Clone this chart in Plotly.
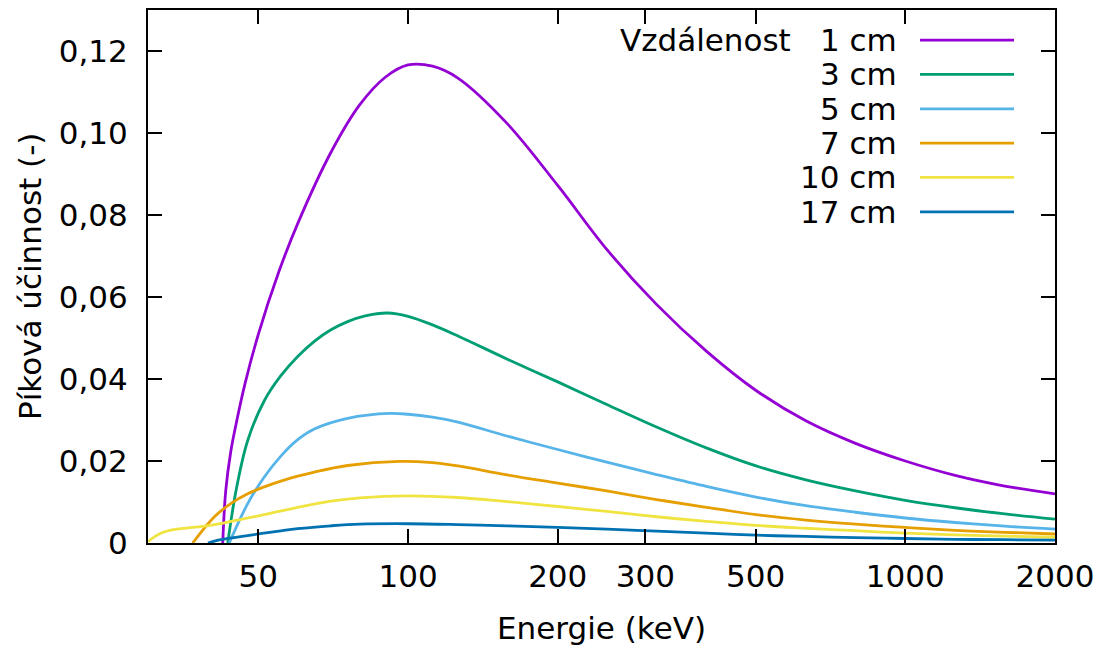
import math
import plotly.graph_objects as go

# ---- data (energy in keV, peak efficiency) ----
series_names = ["1 cm", "3 cm", "5 cm", "7 cm", "10 cm", "17 cm"]
colors = ["#9400D3", "#009E73", "#56B4E9", "#E69F00", "#F0E442", "#0072B2"]

e_1cm = [42.4, 43, 44, 45, 47, 50, 55, 60, 70, 80, 90, 100, 112, 126, 158, 200, 251, 316, 398, 501, 631, 794, 1000, 1259, 1585, 2000]
v_1cm = [0, 0.0128, 0.0222, 0.0284, 0.0388, 0.0509, 0.0662, 0.0779, 0.0953, 0.1069, 0.1136, 0.1166, 0.1163, 0.1134, 0.1024, 0.0872, 0.0716, 0.0582, 0.0468, 0.0372, 0.0298, 0.0243, 0.0200, 0.0165, 0.0139, 0.0120]

e_3cm = [43.4, 45.1, 47.6, 51.4, 55.5, 60, 64.8, 70, 75.6, 82, 91, 100, 112, 126, 158, 200, 251, 316, 398, 501, 631, 794, 1000, 1259, 1585, 2000]
v_3cm = [0, 0.0128, 0.0250, 0.0347, 0.0408, 0.0455, 0.0492, 0.0520, 0.0540, 0.0554, 0.0561, 0.0553, 0.0532, 0.0505, 0.0449, 0.0393, 0.0338, 0.0283, 0.0232, 0.0188, 0.0154, 0.0127, 0.0104, 0.0086, 0.0071, 0.0058]

e_5cm = [43.7, 47.6, 51.4, 55.5, 60, 64.8, 75.6, 92, 100, 112, 126, 158, 200, 251, 316, 398, 501, 631, 794, 1000, 1259, 1585, 2000]
v_5cm = [0, 0.0096, 0.0161, 0.0212, 0.0252, 0.0278, 0.0304, 0.0316, 0.0314, 0.0307, 0.0295, 0.0261, 0.0228, 0.0197, 0.0167, 0.0138, 0.0112, 0.0091, 0.0075, 0.0061, 0.0050, 0.0041, 0.0034]

e_7cm = [36.9, 40.8, 44, 47.6, 51.4, 55.5, 60, 64.8, 75.6, 96, 112, 126, 158, 200, 251, 316, 398, 501, 631, 794, 1000, 1259, 1585, 2000]
v_7cm = [0, 0.0064, 0.0096, 0.0120, 0.0137, 0.0151, 0.0163, 0.0173, 0.0189, 0.0199, 0.0196, 0.0188, 0.0166, 0.0146, 0.0127, 0.0106, 0.0087, 0.0069, 0.0056, 0.0046, 0.0038, 0.0031, 0.0026, 0.0022]

e_10cm = [30, 31, 32, 34, 37, 40, 45, 50, 55, 60, 70, 80, 100, 126, 158, 200, 251, 316, 398, 501, 631, 794, 1000, 1259, 1585, 2000]
v_10cm = [0.0003, 0.0016, 0.0025, 0.0033, 0.0038, 0.0043, 0.0055, 0.0066, 0.0077, 0.0087, 0.0102, 0.0110, 0.0115, 0.0111, 0.0101, 0.0089, 0.0077, 0.0064, 0.0053, 0.0043, 0.0036, 0.0030, 0.0024, 0.0020, 0.0017, 0.0014]

e_17cm = [39.6, 42, 45, 50, 55, 60, 70, 80, 100, 126, 158, 200, 251, 316, 398, 501, 631, 794, 1000, 1259, 1585, 2000]
v_17cm = [0, 0.0008, 0.0014, 0.0022, 0.0029, 0.0035, 0.0042, 0.0046, 0.0047, 0.0045, 0.0042, 0.0038, 0.0034, 0.0029, 0.0024, 0.0019, 0.0016, 0.0013, 0.0011, 0.0009, 0.0008, 0.0007]

x_tickvals = [50, 100, 200, 300, 500, 1000, 2000]
x_ticktext = ["50", "100", "200", "300", "500", "1000", "2000"]
y_tickvals = [0, 0.02, 0.04, 0.06, 0.08, 0.10, 0.12]
y_ticktext = ["0", "0,02", "0,04", "0,06", "0,08", "0,10", "0,12"]

energies = [e_1cm, e_3cm, e_5cm, e_7cm, e_10cm, e_17cm]
values = [v_1cm, v_3cm, v_5cm, v_7cm, v_10cm, v_17cm]

FONT = "DejaVu Sans"
FS = 31
LW = 2.8
W, H = 1112, 650
L, R, T, B = 148, 57, 8, 107
PW, PH = W - L - R, H - T - B


def px(x):
    return (x - L) / PW


def py(y):
    return (H - B - y) / PH


fig = go.Figure()
for name, col, e, v in zip(series_names, colors, energies, values):
    fig.add_trace(go.Scatter(x=e, y=v, mode="lines", name=name,
                             line=dict(color=col, width=LW, shape="spline", smoothing=1.0),
                             showlegend=False))

# legend drawn gnuplot-style (text right-aligned, sample line to the right)
row_y = [38.3, 72.7, 107.3, 141.7, 176.0, 210.7]
annotations = []
shapes = []
for i, (name, col) in enumerate(zip(series_names, colors)):
    annotations.append(dict(x=px(899), y=py(row_y[i]), xref="paper", yref="paper",
                            text=name, showarrow=False, xanchor="right", yanchor="middle",
                            font=dict(family=FONT, size=FS, color="black")))
    shapes.append(dict(type="line", xref="paper", yref="paper",
                       x0=px(920), x1=px(1014), y0=py(row_y[i]), y1=py(row_y[i]),
                       line=dict(color=col, width=LW)))
annotations.append(dict(x=px(793), y=py(row_y[0]), xref="paper", yref="paper",
                        text="Vzdálenost", showarrow=False, xanchor="right", yanchor="middle",
                        font=dict(family=FONT, size=FS, color="black")))
# axis titles
annotations.append(dict(x=px(601), y=py(628), xref="paper", yref="paper",
                        text="Energie (keV)", showarrow=False, xanchor="center", yanchor="middle",
                        font=dict(family=FONT, size=FS, color="black")))
annotations.append(dict(x=px(30), y=py(275), xref="paper", yref="paper",
                        text="Píková účinnost (-)", showarrow=False, textangle=-90,
                        xanchor="center", yanchor="middle",
                        font=dict(family=FONT, size=FS, color="black")))

fig.update_layout(
    width=W, height=H, autosize=False,
    margin=dict(l=L, r=R, t=T, b=B, pad=0),
    paper_bgcolor="white", plot_bgcolor="white",
    font=dict(family=FONT, size=FS, color="black"),
    annotations=annotations, shapes=shapes,
    xaxis=dict(type="log", range=[math.log10(30), math.log10(2000)],
               tickvals=x_tickvals, ticktext=x_ticktext,
               ticks="inside", ticklen=14, tickwidth=1.5, tickcolor="black",
               showline=True, linecolor="black", linewidth=2, mirror="ticks",
               showgrid=False, zeroline=False, ticklabelstandoff=5,
               tickfont=dict(family=FONT, size=FS, color="black")),
    yaxis=dict(range=[0, 0.13], tickvals=y_tickvals, ticktext=y_ticktext,
               ticks="inside", ticklen=14, tickwidth=1.5, tickcolor="black",
               showline=True, linecolor="black", linewidth=2, mirror="ticks",
               showgrid=False, zeroline=False, ticklabelstandoff=12,
               tickfont=dict(family=FONT, size=FS, color="black")),
)

fig.write_html("out.html")
